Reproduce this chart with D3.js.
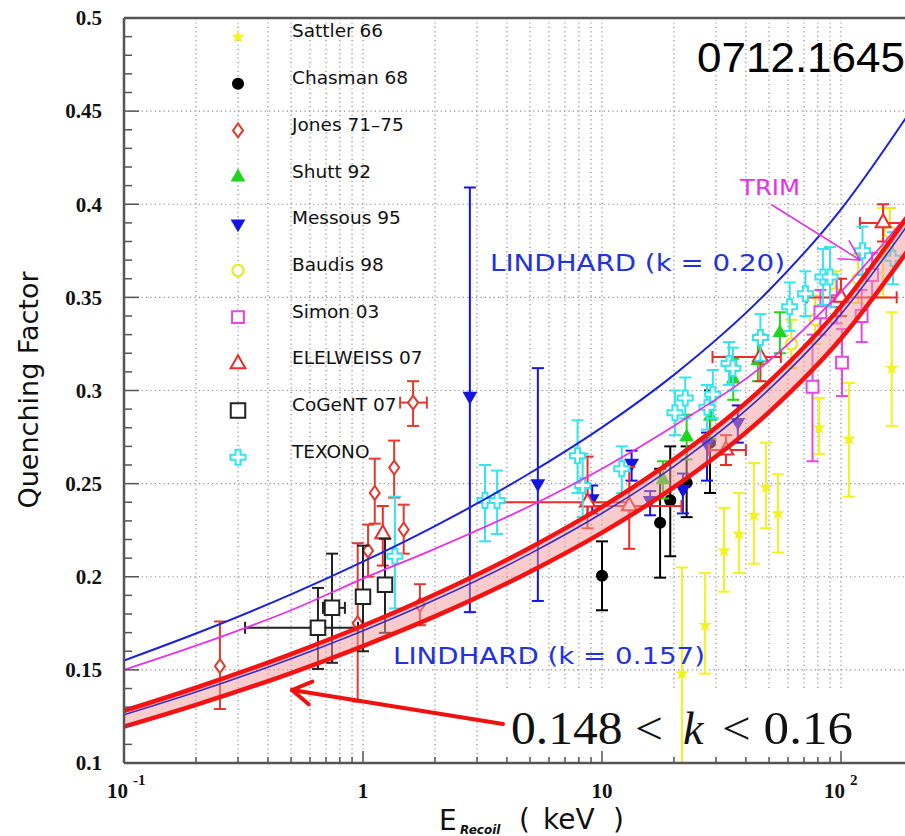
<!DOCTYPE html>
<html>
<head>
<meta charset="utf-8">
<script src="https://cdn.jsdelivr.net/npm/d3@7"></script>
<style>
  html, body { margin:0; padding:0; background:#fff; }
  svg { display:block; }
</style>
</head>
<body>
<div id="chart"></div>
<script>
// ---- data ----
// curves: energy samples (keV) and quenching factor
const curveE      = [0.1, 0.2, 0.5, 1, 2, 5, 10, 20, 50, 100, 200];
const lindhard148 = [0.1195,0.1312,0.1483,0.1628,0.1787,0.2027,0.2237,0.2481,0.2884,0.3279,0.3790];
const lindhard157 = [0.1259,0.1381,0.1560,0.1710,0.1876,0.2124,0.2341,0.2593,0.3006,0.3410,0.3930];
const lindhard160 = [0.1280,0.1404,0.1585,0.1737,0.1905,0.2156,0.2375,0.2630,0.3046,0.3453,0.3976];
const lindhard200 = [0.1550,0.1695,0.1905,0.2081,0.2272,0.2557,0.2802,0.3084,0.3538,0.3973,0.4520];
const trimQF      = [0.150,0.163,0.182,0.199,0.215,0.238,0.258,0.281,0.316,0.353,0.398];

// points: [E, QF, QFlow, QFhigh, Elow?, Ehigh?]
const sattler66 = [
  [21.6,0.148,0.090,0.205],[27.0,0.174,0.148,0.202],[32.4,0.214,0.192,0.237],
  [37.4,0.223,0.202,0.245],[43.2,0.233,0.207,0.261],[48.5,0.248,0.226,0.272],
  [54.5,0.234,0.213,0.255],[81,0.280,0.266,0.296],[108,0.274,0.243,0.304],
  [163,0.312,0.281,0.342],[150,0.375,0.350,0.398]
];
const chasman68 = [
  [10,0.2005,0.182,0.219],[17.5,0.229,0.1995,0.258],[19.3,0.241,0.211,0.270],
  [22.6,0.2505,0.232,0.270],[28.3,0.272,0.245,0.300]
];
const jones7175 = [
  [0.252,0.152,0.129,0.176],[0.95,0.175,0.133,0.218],[1.05,0.214,0.200,0.228],
  [1.12,0.245,0.2285,0.2634],[1.35,0.2586,0.2425,0.2731],[1.48,0.2253,0.2124,0.2387],
  [1.62,0.2935,0.281,0.305,1.43,1.85],[1.73,0.185,0.174,0.196]
];
const shutt92 = [
  [18,0.252,0.242,0.262],[22.6,0.275,0.263,0.287],[28.4,0.286,0.274,0.298],
  [35.4,0.306,0.295,0.317],[44.9,0.316,0.305,0.327],[55.5,0.331,0.320,0.342]
];
const messous95 = [
  [2.80,0.297,0.181,0.409],[5.39,0.250,0.187,0.312],[9.1,0.242,0.234,0.249],
  [13.3,0.261,0.2516,0.2677],[15.9,0.241,0.233,0.246],[21.8,0.247,0.234,0.2554],
  [27.5,0.2715,0.2516,0.2774],[37,0.283,0.272,0.292]
];
const baudis98 = [
  [62,0.325,0.312,0.338],[78,0.338,0.325,0.351],[95,0.352,0.340,0.364],
  [118,0.360,0.347,0.373],[160,0.385,0.372,0.398]
];
const simon03 = [
  [76,0.302,0.262,0.330],[101,0.315,0.297,0.333],[82,0.342,0.330,0.354],
  [96,0.348,0.336,0.360],[122,0.340,0.326,0.354],[135,0.362,0.350,0.374]
];
const elelweiss07 = [
  [1.21,0.223,0.206,0.238],[8.7,0.240,0.226,0.2645,3.6,13],[13.0,0.238,0.215,0.259,8.7,21.5],
  [33,0.268,0.260,0.276,28,40],[46,0.318,0.305,0.330,29,56],[100,0.350,0.340,0.360,72,171],
  [150,0.390,0.380,0.400,120,200]
];
const cogent07 = [
  [0.648,0.1726,0.1505,0.194,0.321,0.953],[0.742,0.1833,0.1538,0.2124,0.68,0.84],
  [1.0,0.1892,0.160,0.2167,0.95,1.06],[1.236,0.1957,0.1699,0.2204]
];
const texono = [
  [1.36,0.211,0.183,0.243],[3.24,0.241,0.219,0.260],[3.64,0.241,0.223,0.257],
  [7.9,0.265,0.245,0.284],[8.3,0.249,0.232,0.266],[12.1,0.258,0.245,0.270],
  [20.2,0.288,0.276,0.300],[22.3,0.296,0.285,0.307],[27.5,0.291,0.279,0.303],
  [29.1,0.298,0.285,0.311],[34,0.3145,0.303,0.326],[35.3,0.312,0.300,0.323],
  [46,0.3285,0.316,0.341],[61,0.345,0.332,0.358],[71,0.352,0.340,0.364],
  [84,0.361,0.346,0.376],[90,0.361,0.345,0.377],[123,0.375,0.362,0.388],[165,0.371,0.357,0.385]
];

const seriesNames  = ["Sattler 66","Chasman 68","Jones 71\u201375","Shutt 92","Messous 95",
                      "Baudis 98","Simon 03","ELELWEISS 07","CoGeNT 07","TEXONO"];
const seriesColors = ["#f2f21c","#000000","#e4392c","#1fd61f","#1414e4",
                      "#e8e814","#e646e6","#ee2a2a","#222222","#34e4ee"];
const seriesShapes = ["star","dot","diamond","triangle","down","ring","square","opentri","bigsquare","cross"];
const seriesPoints = [sattler66, chasman68, jones7175, shutt92, messous95,
                      baudis98, simon03, elelweiss07, cogent07, texono];

const yTickLabels = ["0.1","0.15","0.2","0.25","0.3","0.35","0.4","0.45","0.5"];

// ---- layout ----
const width = 905, height = 836;
const plot = {l:124, r:905, t:18, b:763};

const x = d3.scaleLog().domain([0.1, 200]).range([124, 124 + 239*Math.log10(2000)]);
const y = d3.scaleLinear().domain([0.1, 0.5]).range([763, 18]);

const svg = d3.select("#chart").append("svg")
  .attr("width", width).attr("height", height)
  .style("font-family", "DejaVu Sans, sans-serif");

svg.append("defs").append("clipPath").attr("id","clip")
  .append("rect").attr("x",plot.l).attr("y",plot.t)
  .attr("width",plot.r-plot.l).attr("height",plot.b-plot.t);

// grid
const grid = svg.append("g").attr("stroke","#8a8a8a").attr("stroke-width",1.2)
  .attr("stroke-dasharray","1.2,3.2");
x.ticks().filter(v => v > 0.1 && x(v) < plot.r).forEach(v=>{
  grid.append("line").attr("x1",x(v)).attr("x2",x(v)).attr("y1",plot.t).attr("y2",plot.b);
});
yTickLabels.map(Number).filter(v => v > 0.1 && v < 0.5).forEach(v=>{
  grid.append("line").attr("x1",plot.l).attr("x2",plot.r).attr("y1",y(v)).attr("y2",y(v));
});

// white box behind the k-range label
svg.append("rect").attr("x",505).attr("y",690).attr("width",400).attr("height",68).attr("fill","#fff");

function symbolPath(shape){
  switch(shape){
    case "star": return d3.symbol(d3.symbolStar, 60)();
    case "dot": return d3.symbol(d3.symbolCircle, 115)();
    case "diamond": return "M0,-7L5,0L0,7L-5,0Z";
    case "triangle":
    case "down": return d3.symbol(d3.symbolTriangle, 95)();
    case "ring": return d3.symbol(d3.symbolCircle, 100)();
    case "square": return d3.symbol(d3.symbolSquare, 140)();
    case "opentri": return d3.symbol(d3.symbolTriangle, 95)();
    case "bigsquare": return d3.symbol(d3.symbolSquare, 210)();
    case "cross": return d3.symbol(d3.symbolCross, 125)();
  }
}
const filledShapes = ["star","dot","triangle","down"];

function drawMarker(g, shape, color, px, py){
  const filled = filledShapes.includes(shape);
  g.append("path")
    .attr("d", symbolPath(shape))
    .attr("transform", `translate(${px},${py})` + (shape==="down" ? " rotate(180)" : ""))
    .attr("fill", filled ? color : "#fff")
    .attr("stroke", filled ? "none" : color)
    .attr("stroke-width", 2);
}

// data points
const dataG = svg.append("g").attr("clip-path","url(#clip)");
seriesPoints.forEach((pts, i)=>{
  const col = seriesColors[i];
  const g = dataG.append("g").attr("stroke", col).attr("stroke-width", 2).attr("fill","none");
  const cap = 6;
  pts.forEach(d=>{
    const px = x(d[0]), py = y(d[1]);
    g.append("line").attr("x1",px).attr("x2",px).attr("y1",y(d[2])).attr("y2",y(d[3]));
    g.append("line").attr("x1",px-cap).attr("x2",px+cap).attr("y1",y(d[2])).attr("y2",y(d[2]));
    g.append("line").attr("x1",px-cap).attr("x2",px+cap).attr("y1",y(d[3])).attr("y2",y(d[3]));
    if(d.length > 4){
      g.append("line").attr("x1",x(d[4])).attr("x2",x(d[5])).attr("y1",py).attr("y2",py);
      g.append("line").attr("x1",x(d[4])).attr("x2",x(d[4])).attr("y1",py-cap).attr("y2",py+cap);
      g.append("line").attr("x1",x(d[5])).attr("x2",x(d[5])).attr("y1",py-cap).attr("y2",py+cap);
    }
  });
  pts.forEach(d=> drawMarker(g, seriesShapes[i], col, x(d[0]), y(d[1])));
});

// curves
const curveG = svg.append("g").attr("clip-path","url(#clip)");
const toPts = arr => curveE.map((e,i)=>[e, arr[i]]);
const line = d3.line().x(d=>x(d[0])).y(d=>y(d[1])).curve(d3.curveMonotoneX);
const area = d3.area().x((d,i)=>x(curveE[i])).y0((d,i)=>y(lindhard148[i])).y1((d,i)=>y(lindhard160[i]))
  .curve(d3.curveMonotoneX);

curveG.append("path").attr("d", area(curveE)).attr("fill","#f29a9a").attr("fill-opacity",0.5);
curveG.append("path").attr("d", line(toPts(trimQF))).attr("fill","none").attr("stroke","#e632e6").attr("stroke-width",1.8);
curveG.append("path").attr("d", line(toPts(lindhard200))).attr("fill","none").attr("stroke","#1c22d8").attr("stroke-width",2);
curveG.append("path").attr("d", line(toPts(lindhard148))).attr("fill","none").attr("stroke","#f41212").attr("stroke-width",4.5);
curveG.append("path").attr("d", line(toPts(lindhard160))).attr("fill","none").attr("stroke","#f41212").attr("stroke-width",4.5);
curveG.append("path").attr("d", line(toPts(lindhard157))).attr("fill","none").attr("stroke","#3a2ac8").attr("stroke-width",1.6);

// legend
const legend = svg.append("g");
seriesNames.forEach((name, i)=>{
  const ly = 37 + i*46.7;
  drawMarker(legend, seriesShapes[i], seriesColors[i], 238, ly);
  legend.append("text").attr("x",292).attr("y",ly-6).attr("dy","0.35em")
    .attr("font-size",18.5).attr("fill","#111").text(name);
});

// annotations
svg.append("text").attr("x",490).attr("y",271).attr("font-size",23).attr("fill","#2233dd")
  .attr("textLength",295).attr("lengthAdjust","spacingAndGlyphs").text("LINDHARD (k = 0.20)");
svg.append("text").attr("x",393).attr("y",664).attr("font-size",23).attr("fill","#2233dd")
  .attr("textLength",312).attr("lengthAdjust","spacingAndGlyphs").text("LINDHARD (k = 0.157)");
svg.append("text").attr("x",740).attr("y",195).attr("font-size",22).attr("fill","#e632e6")
  .attr("textLength",60).attr("lengthAdjust","spacingAndGlyphs").text("TRIM");
svg.append("text").attr("x",697).attr("y",72).attr("font-size",42).attr("fill","#000")
  .style("font-family","Liberation Sans, Arial, sans-serif")
  .attr("textLength",208).attr("lengthAdjust","spacingAndGlyphs").text("0712.1645");

// "0.148 < k < 0.16" in three pieces so the italic k keeps its own room
const kG = svg.append("g").attr("fill","#111").attr("font-size",46)
  .style("font-family","Liberation Serif, Times New Roman, serif");
kG.append("text").attr("x",511).attr("y",744).attr("textLength",152)
  .attr("lengthAdjust","spacingAndGlyphs").text("0.148 <");
kG.append("text").attr("x",683).attr("y",744).attr("font-style","italic").text("k");
kG.append("text").attr("x",722).attr("y",744).attr("textLength",131)
  .attr("lengthAdjust","spacingAndGlyphs").text("< 0.16");

function arrow(x1, y1, x2, y2, color, w, len, ang){
  const g = svg.append("g").attr("stroke",color).attr("stroke-width",w).attr("stroke-linecap","round").attr("fill","none");
  g.append("line").attr("x1",x1).attr("y1",y1).attr("x2",x2).attr("y2",y2);
  const a = Math.atan2(y1-y2, x1-x2);
  [a+ang, a-ang].forEach(b=>{
    g.append("line").attr("x1",x2).attr("y1",y2)
      .attr("x2",x2+len*Math.cos(b)).attr("y2",y2+len*Math.sin(b));
  });
}
arrow(503, 724, 292, 690, "#f01010", 4, 22, 0.55);
arrow(772, 205, 860, 260, "#e632e6", 1.6, 22, 0.5);

// frame and ticks
const frame = svg.append("g").attr("stroke","#555").attr("stroke-width",2.5).attr("fill","none");
frame.append("line").attr("x1",plot.l).attr("x2",plot.r).attr("y1",plot.t).attr("y2",plot.t);
frame.append("line").attr("x1",plot.l).attr("x2",plot.l).attr("y1",plot.t).attr("y2",plot.b);
frame.append("line").attr("x1",plot.l).attr("x2",plot.r).attr("y1",plot.b).attr("y2",plot.b);

const ticks = svg.append("g").attr("stroke","#555").attr("stroke-width",1.5);
y.ticks(40).forEach(v=>{
  const major = Math.abs(v*20 - Math.round(v*20)) < 1e-6;
  ticks.append("line").attr("x1",plot.l).attr("x2",plot.l + (major ? 15 : 8))
    .attr("y1",y(v)).attr("y2",y(v));
});
x.ticks().filter(v => x(v) < plot.r).forEach(v=>{
  const major = Math.abs(Math.log10(v) - Math.round(Math.log10(v))) < 1e-6;
  ticks.append("line").attr("x1",x(v)).attr("x2",x(v))
    .attr("y1",plot.b).attr("y2",plot.b - (major ? 12 : 6));
});

// tick labels
const tl = svg.append("g").style("font-family","Liberation Serif, Times New Roman, serif")
  .attr("font-weight","bold").attr("fill","#111");
yTickLabels.forEach(s=>{
  tl.append("text").attr("x",102).attr("y",y(+s)).attr("dy","0.35em")
    .attr("text-anchor","end").attr("font-size",21).text(s);
});
const xLab = [[0.1,"10","-1"],[1,"1",""],[10,"10",""],[100,"10","2"]];
xLab.forEach(([v, base, sup])=>{
  const px = x(v);
  if(sup){
    tl.append("text").attr("x",px+4).attr("y",798).attr("text-anchor","end").attr("font-size",21).text(base);
    tl.append("text").attr("x",px+9).attr("y",785).attr("font-size",15).text(sup);
  } else {
    tl.append("text").attr("x",px).attr("y",798).attr("text-anchor","middle").attr("font-size",21).text(base);
  }
});

// axis titles
svg.append("text").attr("transform","translate(38,390) rotate(-90)").attr("text-anchor","middle")
  .attr("font-size",27).attr("fill","#111").text("Quenching Factor");
const xt = svg.append("g").attr("fill","#111").attr("font-size",28);
xt.append("text").attr("x",439).attr("y",830).text("E");
xt.append("text").attr("x",460).attr("y",834).attr("font-size",12).attr("font-weight","bold")
  .attr("font-style","italic").text("Recoil");
xt.append("text").attr("x",519).attr("y",829).text("(");
xt.append("text").attr("x",543).attr("y",829).text("keV");
xt.append("text").attr("x",613).attr("y",829).text(")");
</script>
</body>
</html>
